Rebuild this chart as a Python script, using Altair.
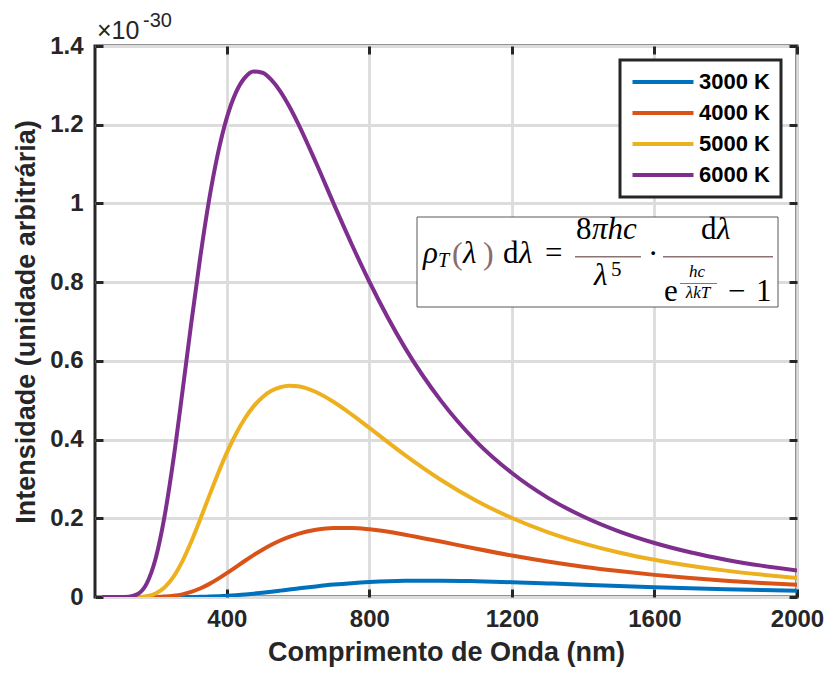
import altair as alt
import pandas as pd

# ---- data (intensity in units of 1e-30) ----
wavelength = [50, 100, 125, 150, 175, 200, 225, 250, 275, 300, 325, 350, 375, 400,
              425, 450, 475, 500, 525, 550, 575, 600, 650, 700, 750, 800, 900, 1000,
              1100, 1200, 1300, 1400, 1500, 1600, 1700, 1800, 1900, 2000]

t3000 = [0, 0, 0, 0, 0, 0, 0, 0.0000, 0.0001, 0.0002, 0.0005, 0.0011, 0.0019, 0.0030,
         0.0045, 0.0064, 0.0085, 0.0109, 0.0135, 0.0162, 0.0190, 0.0217, 0.0269, 0.0315,
         0.0352, 0.0381, 0.0412, 0.0416, 0.0401, 0.0376, 0.0345, 0.0312, 0.0280, 0.0250,
         0.0223, 0.0198, 0.0176, 0.0156]
t4000 = [0, 0, 0, 0, 0.0000, 0.0002, 0.0010, 0.0029, 0.0066, 0.0128, 0.0215, 0.0327, 0.0460,
         0.0607, 0.0760, 0.0915, 0.1063, 0.1201, 0.1327, 0.1436, 0.1528, 0.1604, 0.1708,
         0.1754, 0.1754, 0.1719, 0.1584, 0.1408, 0.1225, 0.1054, 0.0902, 0.0770, 0.0658,
         0.0562, 0.0482, 0.0415, 0.0358, 0.0310]
t5000 = [0, 0, 0, 0.0003, 0.0022, 0.0088, 0.0242, 0.0513, 0.0907, 0.1404, 0.1968, 0.2556,
         0.3133, 0.3667, 0.4136, 0.4530, 0.4844, 0.5077, 0.5238, 0.5330, 0.5368, 0.5353,
         0.5208, 0.4954, 0.4639, 0.4296, 0.3605, 0.2980, 0.2446, 0.2008, 0.1651, 0.1364,
         0.1132, 0.0945, 0.0794, 0.0670, 0.0569, 0.0485]
t6000 = [0, 0, 0.0008, 0.0075, 0.034, 0.097, 0.204, 0.349, 0.519, 0.695, 0.861, 1.008,
         1.127, 1.218, 1.281, 1.319, 1.335, 1.332, 1.314, 1.285, 1.247, 1.203, 1.104,
         0.999, 0.897, 0.801, 0.633, 0.4996, 0.395, 0.315, 0.2526, 0.2044, 0.1667,
         0.1371, 0.1136, 0.0948, 0.0797, 0.0674]

series_names = ["3000 K", "4000 K", "5000 K", "6000 K"]
series_values = [t3000, t4000, t5000, t6000]
series_colors = ["#0072BD", "#D95319", "#EDB120", "#7E2F8E"]
x_ticks = [400, 800, 1200, 1600, 2000]
y_ticks = [0, 0.2, 0.4, 0.6, 0.8, 1.0, 1.2, 1.4]

rows = []
for name, vals in zip(series_names, series_values):
    for wl, v in zip(wavelength, vals):
        rows.append({"wl": wl, "val": v, "serie": name})
df = pd.DataFrame(rows)

W, H = 702, 551
SANS = "Liberation Sans"
SERIF = "Liberation Serif"
DARK = "#262626"

xscale = alt.Scale(domain=[30, 2000], nice=False, zero=False)
yscale = alt.Scale(domain=[0, 1.4], nice=False, zero=False)

lines = alt.Chart(df).mark_line(strokeWidth=4, interpolate="monotone", clip=True).encode(
    x=alt.X("wl:Q", scale=xscale, title="Comprimento de Onda (nm)",
            axis=alt.Axis(values=x_ticks, format="d", grid=True, gridColor="#dcdcdc",
                          gridWidth=2.8, domain=False, ticks=True, tickSize=8, offset=-8,
                          tickWidth=3, tickColor=DARK, labelFlush=False,
                          labelFont=SANS, labelFontSize=24, labelFontWeight="bold",
                          labelColor=DARK, labelPadding=10,
                          titleFont=SANS, titleFontSize=27, titleFontWeight="bold",
                          titleColor=DARK, titlePadding=8)),
    y=alt.Y("val:Q", scale=yscale, title="Intensidade (unidade arbitrária)",
            axis=alt.Axis(values=y_ticks, format="~g", grid=True, gridColor="#dcdcdc",
                          gridWidth=2.8, domain=False, ticks=True, tickSize=8, offset=-8,
                          tickWidth=3, tickColor=DARK, labelFlush=False,
                          labelFont=SANS, labelFontSize=24, labelFontWeight="bold",
                          labelColor=DARK, labelPadding=12,
                          titleFont=SANS, titleFontSize=27, titleFontWeight="bold",
                          titleColor=DARK, titlePadding=9)),
    color=alt.Color("serie:N", scale=alt.Scale(domain=series_names, range=series_colors),
                    legend=alt.Legend(title=None, orient="none", legendX=525, legendY=14,
                                      padding=11, strokeColor=DARK, fillColor="white",
                                      labelFont=SANS, labelFontSize=22, labelFontWeight="bold",
                                      labelColor="black", symbolType="M-1.9,0L10.3,0",
                                      symbolSize=100, symbolStrokeWidth=4, rowPadding=9,
                                      labelOffset=46)),
)

# secondary axes (top / right ticks of the box)
frame = alt.Chart(df).mark_point(opacity=0).encode(
    x=alt.X("wl:Q", scale=xscale, title=None,
            axis=alt.Axis(orient="top", values=x_ticks, labels=False, grid=False,
                          domain=False, tickSize=8, offset=-8, tickWidth=3, tickColor=DARK)),
    y=alt.Y("val:Q", scale=yscale, title=None,
            axis=alt.Axis(orient="right", values=y_ticks, labels=False, grid=False,
                          domain=False, tickSize=8, offset=-8, tickWidth=3, tickColor=DARK)),
)

one = pd.DataFrame({"a": [0]})


def txt(s, x, y, size, italic=False, color="black", font=SERIF, align="left", weight="normal"):
    return alt.Chart(one).mark_text(text=s, font=font, fontSize=size,
                                    fontStyle="italic" if italic else "normal",
                                    fontWeight=weight, color=color, align=align,
                                    baseline="alphabetic").encode(
        x=alt.value(x), y=alt.value(y))


def hline(x1, x2, y, color="#8c7373", w=1.4):
    return alt.Chart(one).mark_rule(color=color, strokeWidth=w).encode(
        x=alt.value(x1), x2=alt.value(x2), y=alt.value(y))


box = alt.Chart(one).mark_rect(fill="white", stroke="#595959", strokeWidth=1).encode(
    x=alt.value(322), x2=alt.value(683), y=alt.value(171), y2=alt.value(261))

BR = "#8a6a6a"
OX, OY = 95, 46  # reference-pixel to plot-area offset for the annotation
F = 31
formula = [
    box,
    txt("ρ", 423 - OX, 263 - OY, F, italic=True),
    txt("T", 438 - OX, 267 - OY, 20, italic=True),
    txt("(", 452 - OX, 264 - OY, 32, color=BR),
    txt("λ", 463 - OX, 263 - OY, F, italic=True),
    txt(")", 483 - OX, 264 - OY, 32, color=BR),
    txt("d", 503 - OX, 263 - OY, F),
    txt("λ", 519 - OX, 263 - OY, F, italic=True),
    txt("=", 545 - OX, 263 - OY, F),
    txt("8", 576 - OX, 239 - OY, F),
    txt("πhc", 592 - OX, 239 - OY, F, italic=True),
    hline(575 - OX, 641 - OX, 256.7 - OY),
    txt("λ", 594 - OX, 285 - OY, F, italic=True),
    txt("5", 611 - OX, 276 - OY, 21),
    txt("·", 648 - OX, 264 - OY, F),
    txt("d", 701 - OX, 239 - OY, F),
    txt("λ", 717 - OX, 239 - OY, F, italic=True),
    hline(663 - OX, 773 - OX, 256.7 - OY),
    txt("e", 664 - OX, 301 - OY, F),
    txt("hc", 697 - OX, 277 - OY, 17, italic=True, align="center"),
    hline(680 - OX, 717 - OX, 283.5 - OY, w=1.1),
    txt("λkT", 698 - OX, 298 - OY, 17, italic=True, align="center"),
    txt("−", 728 - OX, 301 - OY, F),
    txt("1", 756 - OX, 301 - OY, F),
]

exponent = [
    txt("×10", 97 - OX, 39 - OY, 25, font=SANS, color=DARK),
    txt("-30", 143 - OX, 27 - OY, 20, font=SANS, color=DARK),
]

chart = alt.layer(lines, frame, *formula, *exponent).resolve_axis(
    x="independent", y="independent"
).properties(
    width=W, height=H,
    autosize=alt.AutoSizeParams(type="none"),
    padding={"left": 95, "top": 46, "right": 30, "bottom": 78},
).configure_view(
    stroke=DARK, strokeWidth=3
).configure_legend(
    strokeWidth=3
)

chart.save("out.html", embed_options={"renderer": "svg", "actions": False})
